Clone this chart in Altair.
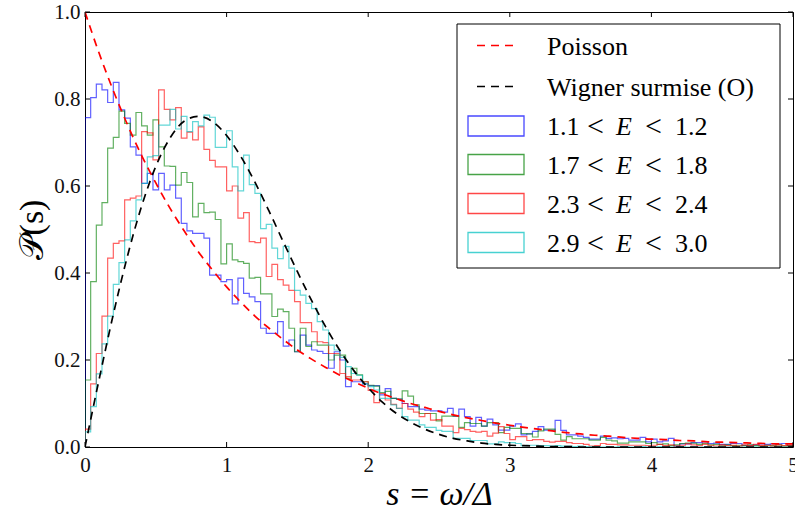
import altair as alt
import pandas as pd

# ---------------- data ----------------
BIN_W = 0.04  # histogram bin width, 125 bins on [0, 5]

blue = [  # 1.1 < E < 1.2
    0.757, 0.803, 0.834, 0.821, 0.792, 0.838, 0.775, 0.756, 0.690, 0.671,
    0.606, 0.629, 0.591, 0.629, 0.591, 0.602, 0.572, 0.514, 0.497, 0.491,
    0.491, 0.480, 0.395, 0.395, 0.380, 0.385, 0.329, 0.388, 0.353, 0.345,
    0.334, 0.273, 0.261, 0.261, 0.288, 0.232, 0.246, 0.219, 0.257, 0.234,
    0.223, 0.220, 0.215, 0.181, 0.219, 0.200, 0.139, 0.150, 0.150, 0.145,
    0.141, 0.141, 0.120, 0.134, 0.112, 0.110, 0.100, 0.093, 0.093, 0.087,
    0.085, 0.083, 0.083, 0.080, 0.089, 0.071, 0.087, 0.070, 0.048, 0.068,
    0.048, 0.064, 0.051, 0.039, 0.039, 0.048, 0.053, 0.028, 0.030, 0.036,
    0.047, 0.039, 0.039, 0.061, 0.038, 0.028, 0.028, 0.025, 0.022, 0.018,
    0.018, 0.025, 0.020, 0.021, 0.019, 0.020, 0.016, 0.016, 0.022, 0.012,
    0.018, 0.012, 0.014, 0.020, 0.002, 0.007, 0.007, 0.010, 0.010, 0.012,
    0.008, 0.009, 0.006, 0.006, 0.008, 0.008, 0.004, 0.004, 0.005, 0.007,
    0.006, 0.007, 0.007, 0.008, 0.003,
]
green = [  # 1.7 < E < 1.8
    0.154, 0.380, 0.510, 0.562, 0.687, 0.712, 0.772, 0.744, 0.717, 0.769,
    0.738, 0.717, 0.752, 0.690, 0.646, 0.645, 0.602, 0.631, 0.608, 0.529,
    0.560, 0.539, 0.540, 0.523, 0.421, 0.467, 0.430, 0.426, 0.422, 0.388,
    0.390, 0.352, 0.352, 0.300, 0.317, 0.311, 0.273, 0.219, 0.273, 0.231,
    0.242, 0.234, 0.234, 0.200, 0.211, 0.211, 0.158, 0.181, 0.166, 0.150,
    0.142, 0.140, 0.125, 0.128, 0.112, 0.110, 0.129, 0.117, 0.097, 0.077,
    0.077, 0.077, 0.060, 0.071, 0.071, 0.071, 0.045, 0.056, 0.054, 0.054,
    0.048, 0.056, 0.056, 0.033, 0.045, 0.043, 0.043, 0.031, 0.030, 0.023,
    0.037, 0.041, 0.041, 0.029, 0.016, 0.024, 0.019, 0.019, 0.019, 0.016,
    0.016, 0.022, 0.016, 0.014, 0.009, 0.009, 0.012, 0.012, 0.012, 0.008,
    0.010, 0.006, 0.007, 0.003, 0.005, 0.008, 0.009, 0.009, 0.006, 0.008,
    0.005, 0.006, 0.004, 0.005, 0.003, 0.004, 0.003, 0.005, 0.003, 0.002,
    0.004, 0.003, 0.005, 0.002, 0.003,
]
red = [  # 2.3 < E < 2.4
    0.041, 0.145, 0.215, 0.301, 0.434, 0.468, 0.474, 0.568, 0.572, 0.577,
    0.725, 0.722, 0.660, 0.821, 0.776, 0.752, 0.780, 0.710, 0.724, 0.706,
    0.736, 0.684, 0.659, 0.644, 0.644, 0.589, 0.600, 0.526, 0.539, 0.472,
    0.470, 0.480, 0.392, 0.420, 0.385, 0.372, 0.360, 0.334, 0.286, 0.286,
    0.265, 0.242, 0.240, 0.215, 0.215, 0.169, 0.162, 0.154, 0.154, 0.150,
    0.130, 0.102, 0.123, 0.108, 0.098, 0.089, 0.100, 0.087, 0.080, 0.070,
    0.077, 0.062, 0.063, 0.048, 0.048, 0.033, 0.043, 0.040, 0.036, 0.034,
    0.036, 0.025, 0.032, 0.047, 0.031, 0.017, 0.024, 0.024, 0.015, 0.017,
    0.017, 0.013, 0.011, 0.013, 0.013, 0.010, 0.008, 0.008, 0.006, 0.002,
    0.003, 0.008, 0.006, 0.006, 0.005, 0.005, 0.004, 0.004, 0.004, 0.003,
    0.004, 0.006, 0.003, 0.005, 0.002, 0.004, 0.007, 0.005, 0.003, 0.006,
    0.004, 0.002, 0.005, 0.003, 0.004, 0.002, 0.005, 0.003, 0.006, 0.003,
    0.004, 0.002, 0.005, 0.003, 0.004,
]
cyan = [  # 2.9 < E < 3.0
    0.035, 0.093, 0.168, 0.237, 0.301, 0.374, 0.424, 0.476, 0.520, 0.568,
    0.606, 0.667, 0.670, 0.740, 0.740, 0.776, 0.731, 0.760, 0.725, 0.748,
    0.738, 0.763, 0.758, 0.689, 0.689, 0.727, 0.644, 0.589, 0.671, 0.603,
    0.583, 0.502, 0.512, 0.457, 0.433, 0.461, 0.411, 0.360, 0.349, 0.330,
    0.318, 0.288, 0.269, 0.234, 0.223, 0.206, 0.185, 0.169, 0.165, 0.145,
    0.139, 0.131, 0.112, 0.112, 0.097, 0.089, 0.070, 0.062, 0.062, 0.051,
    0.045, 0.045, 0.038, 0.036, 0.036, 0.020, 0.020, 0.020, 0.015, 0.015,
    0.015, 0.007, 0.007, 0.012, 0.010, 0.010, 0.008, 0.003, 0.004, 0.004,
    0.003, 0.003, 0.002, 0.003, 0.002, 0.002, 0.001, 0.002, 0.001, 0.001,
    0.001, 0.000, 0.001, 0.000, 0.001, 0.001, 0.000, 0.000, 0.001, 0.000,
    0.000, 0.001, 0.000, 0.000, 0.000, 0.001, 0.000, 0.000, 0.000, 0.000,
    0.000, 0.000, 0.000, 0.000, 0.000, 0.000, 0.000, 0.000, 0.000, 0.000,
    0.000, 0.000, 0.000, 0.000, 0.000,
]

curve_s = [round(0.1 * i, 1) for i in range(51)]
poisson = [
    1.000, 0.905, 0.819, 0.741, 0.670, 0.607, 0.549, 0.497, 0.449, 0.407,
    0.368, 0.333, 0.301, 0.273, 0.247, 0.223, 0.202, 0.183, 0.165, 0.150,
    0.135, 0.122, 0.111, 0.100, 0.091, 0.082, 0.074, 0.067, 0.061, 0.055,
    0.050, 0.045, 0.041, 0.037, 0.033, 0.030, 0.027, 0.025, 0.022, 0.020,
    0.018, 0.017, 0.015, 0.014, 0.012, 0.011, 0.010, 0.009, 0.008, 0.007,
    0.007,
]
wigner = [
    0.000, 0.156, 0.305, 0.439, 0.554, 0.645, 0.710, 0.749, 0.760, 0.748,
    0.716, 0.668, 0.609, 0.542, 0.472, 0.403, 0.337, 0.276, 0.222, 0.175,
    0.136, 0.103, 0.077, 0.057, 0.041, 0.029, 0.020, 0.014, 0.009, 0.006,
    0.004, 0.003, 0.002, 0.001, 0.001, 0.000, 0.000, 0.000, 0.000, 0.000,
    0.000, 0.000, 0.000, 0.000, 0.000, 0.000, 0.000, 0.000, 0.000, 0.000,
    0.000,
]

series_names = ["1.1 < E < 1.2", "1.7 < E < 1.8", "2.3 < E < 2.4", "2.9 < E < 3.0"]
series_vals = [blue, green, red, cyan]
series_cols = ["#0000ff", "#008000", "#ff0000", "#00bfbf"]
HIST_OPACITY = 0.62

x_ticks = [0, 1, 2, 3, 4, 5]
y_ticks = [0.0, 0.2, 0.4, 0.6, 0.8, 1.0]

W, H = 708, 435
FONT = "Liberation Serif"

# ---------------- build tables ----------------
def step_table(vals):
    n = len(vals)
    rows = [{"i": 0, "s": 0.0, "p": 0.0}]
    for k, v in enumerate(vals):
        rows.append({"i": k + 1, "s": round(k * BIN_W, 2), "p": v})
    rows.append({"i": n + 1, "s": round(n * BIN_W, 2), "p": vals[-1]})
    rows.append({"i": n + 2, "s": round(n * BIN_W, 2), "p": 0.0})
    return pd.DataFrame(rows)

xscale = alt.Scale(domain=[0, 5], nice=False, zero=False)
yscale = alt.Scale(domain=[0, 1], nice=False, zero=False)

xaxis = alt.Axis(values=x_ticks, format="d", labelPadding=7, title="s = ω/Δ",
                 titleFontSize=34, titleFontStyle="italic", titlePadding=2,
                 labelFlush=False, labelOverlap=False, ticks=False, domain=False,
                 grid=False)
yaxis = alt.Axis(values=y_ticks, format=".1f", labelPadding=5, title="𝒫(s)",
                 titleFontSize=34, titlePadding=4, labelFlush=False,
                 labelOverlap=False, ticks=False, domain=False, grid=False)


def X(field):
    return alt.X(field, scale=xscale, axis=xaxis)


def Y(field):
    return alt.Y(field, scale=yscale, axis=yaxis)


layers = []
for name, vals, col in zip(series_names, series_vals, series_cols):
    df = step_table(vals)
    layers.append(
        alt.Chart(df).mark_line(interpolate="step-after", color=col,
                                strokeWidth=1.2, opacity=HIST_OPACITY, clip=True)
        .encode(x=X("s:Q"), y=Y("p:Q"), order="i:Q")
    )

curve_df = pd.DataFrame({"s": curve_s, "poisson": poisson, "wigner": wigner})
DASH = [8, 6]
layers.append(
    alt.Chart(curve_df).mark_line(color="#ff0000", strokeDash=DASH, strokeWidth=1.7,
                                  interpolate="monotone", clip=True)
    .encode(x=X("s:Q"), y=Y("poisson:Q"))
)
layers.append(
    alt.Chart(curve_df).mark_line(color="#000000", strokeDash=DASH, strokeWidth=1.7,
                                  interpolate="monotone", clip=True)
    .encode(x=X("s:Q"), y=Y("wigner:Q"))
)

# inward ticks (matplotlib classic style) on all four sides
xt = pd.DataFrame({"s": x_ticks})
yt = pd.DataFrame({"p": y_ticks})
TL = 5
layers.append(alt.Chart(xt).mark_rule(color="black", strokeWidth=1)
              .encode(x=X("s:Q"), y=alt.value(H), y2=alt.value(H - TL)))
layers.append(alt.Chart(xt).mark_rule(color="black", strokeWidth=1)
              .encode(x=X("s:Q"), y=alt.value(0), y2=alt.value(TL)))
layers.append(alt.Chart(yt).mark_rule(color="black", strokeWidth=1)
              .encode(y=Y("p:Q"), x=alt.value(0), x2=alt.value(TL)))
layers.append(alt.Chart(yt).mark_rule(color="black", strokeWidth=1)
              .encode(y=Y("p:Q"), x=alt.value(W), x2=alt.value(W - TL)))

# ---------------- legend (drawn inside the plot) ----------------
one = pd.DataFrame({"k": [0]})
LX0, LX1, LY0, LY1 = 372, 695, 12, 256
layers.append(alt.Chart(one).mark_rect(fill="white", stroke="black", strokeWidth=1)
              .encode(x=alt.value(LX0), x2=alt.value(LX1), y=alt.value(LY0), y2=alt.value(LY1)))

TX = 462
FS = 26


def txt(s, x, y, italic=False, size=FS):
    return (alt.Chart(one)
            .mark_text(text=s, font=FONT, fontSize=size, align="left", baseline="middle",
                       fontStyle="italic" if italic else "normal", color="black")
            .encode(x=alt.value(x), y=alt.value(y)))


line_rows = [("Poisson", "#ff0000", 33.5), ("Wigner surmise (O)", "#000000", 74.5)]
for label, col, yy in line_rows:
    layers.append(alt.Chart(one).mark_rule(color=col, strokeDash=DASH, strokeWidth=1.7)
                  .encode(x=alt.value(392), x2=alt.value(431), y=alt.value(yy)))
    layers.append(txt(label, TX, yy + 1))

row_y = [114, 152.5, 191.5, 230.5]
for name, col, yy in zip(series_names, series_cols, row_y):
    layers.append(alt.Chart(one).mark_rect(fill="white", stroke=col, strokeWidth=1.3,
                                           strokeOpacity=HIST_OPACITY + 0.1)
                  .encode(x=alt.value(383), x2=alt.value(439),
                          y=alt.value(yy - 10), y2=alt.value(yy + 10)))
    lo, _, _, _, hi = name.split(" ")
    layers.append(txt(lo, TX, yy + 1))
    layers.append(txt("<", 502, yy + 1, size=30))
    layers.append(txt("E", 531, yy + 1, italic=True))
    layers.append(txt("<", 560, yy + 1, size=30))
    layers.append(txt(hi, 590, yy + 1))

chart = (
    alt.layer(*layers)
    .properties(width=W, height=H, autosize="none",
                padding={"left": 85, "top": 12, "right": 2, "bottom": 74})
    .configure_view(stroke="black", strokeWidth=1)
    .configure_axis(labelFont=FONT, labelFontSize=21, labelColor="#111",
                    titleFont=FONT, titleFontWeight="normal", titleColor="black")
)

chart.save("out.html", embed_options={"renderer": "svg", "actions": False})
